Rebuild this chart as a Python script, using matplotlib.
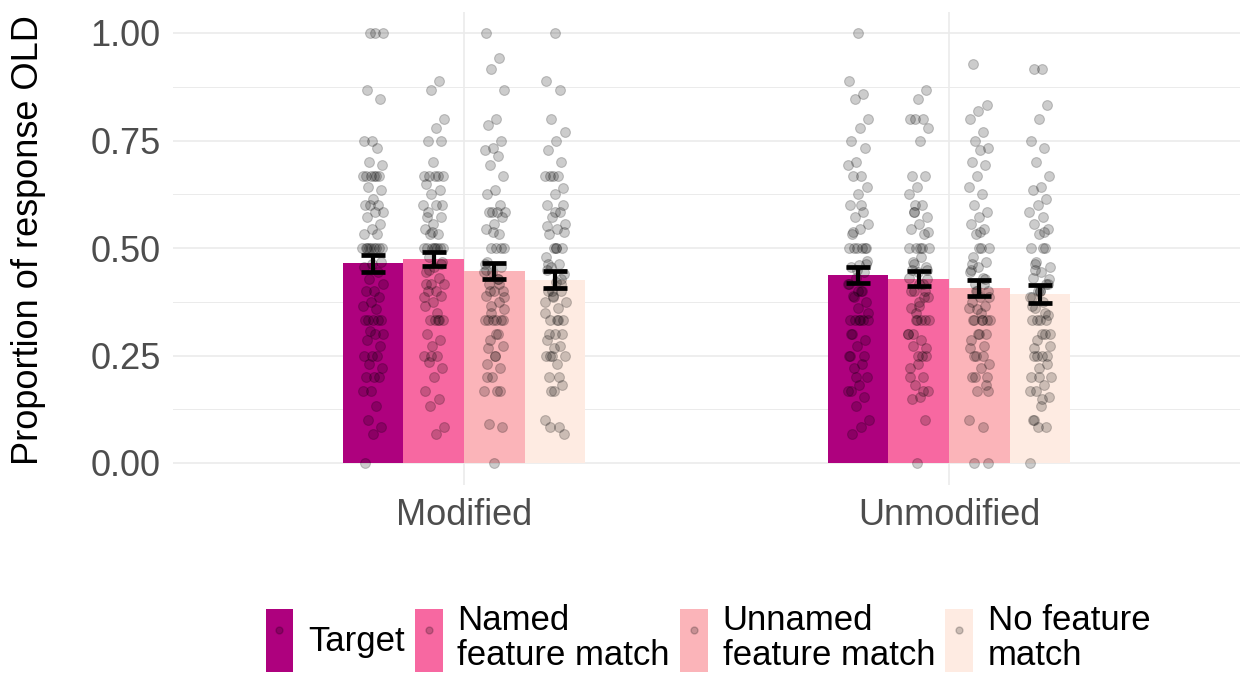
import numpy as np
import matplotlib
matplotlib.use("Agg")
import matplotlib.pyplot as plt
from matplotlib.patches import Patch
from matplotlib.lines import Line2D
from matplotlib.legend_handler import HandlerTuple

plt.rcParams['font.family'] = ['Liberation Sans', 'DejaVu Sans']

# ---- data -------------------------------------------------------------
conditions = ["Modified", "Unmodified"]
match_types = ["Target", "Named\nfeature match", "Unnamed\nfeature match", "No feature\nmatch"]
fill_colors = ["#AE017E", "#F768A1", "#FBB4B9", "#FEEBE2"]

# mean proportion of OLD responses, [condition][match type]
mean_old = [
    [0.464, 0.474, 0.447, 0.426],
    [0.437, 0.429, 0.407, 0.393],
]
# standard error of the mean
se_old = [
    [0.019, 0.017, 0.019, 0.020],
    [0.018, 0.017, 0.019, 0.020],
]

# per-participant proportions
mod_target = [1.0, 1.0, 1.0, 0.867, 0.846, 0.75, 0.75, 0.733, 0.70, 0.692, 0.667, 0.667, 0.667,
              0.667, 0.667, 0.667, 0.643, 0.636, 0.615, 0.60, 0.60, 0.60, 0.583, 0.583, 0.571,
              0.556, 0.545, 0.533, 0.533, 0.50, 0.50, 0.50, 0.50, 0.50, 0.50, 0.50, 0.50, 0.50,
              0.467, 0.462, 0.455, 0.444, 0.429, 0.417, 0.40, 0.40, 0.385, 0.375, 0.364, 0.357,
              0.333, 0.333, 0.333, 0.333, 0.333, 0.308, 0.30, 0.30, 0.286, 0.273, 0.25, 0.25,
              0.25, 0.231, 0.222, 0.20, 0.20, 0.20, 0.167, 0.167, 0.133, 0.10, 0.083, 0.067, 0.0]
mod_named = [0.889, 0.867, 0.80, 0.778, 0.75, 0.75, 0.70, 0.667, 0.667, 0.667, 0.667, 0.667,
             0.65, 0.636, 0.625, 0.60, 0.60, 0.583, 0.571, 0.556, 0.545, 0.533, 0.533, 0.50,
             0.50, 0.50, 0.50, 0.50, 0.50, 0.50, 0.48, 0.467, 0.455, 0.444, 0.43, 0.417, 0.417,
             0.40, 0.40, 0.389, 0.375, 0.364, 0.333, 0.333, 0.333, 0.333, 0.30, 0.286, 0.273,
             0.25, 0.25, 0.235, 0.222, 0.20, 0.167, 0.15, 0.133, 0.083, 0.067, 0.571, 0.462,
             0.538, 0.385, 0.35, 0.45, 0.6, 0.5, 0.417, 0.333, 0.25]
mod_unnamed = [1.0, 0.941, 0.917, 0.867, 0.80, 0.786, 0.75, 0.733, 0.727, 0.714, 0.692, 0.667,
               0.636, 0.625, 0.60, 0.583, 0.583, 0.583, 0.583, 0.571, 0.556, 0.545, 0.533,
               0.50, 0.50, 0.50, 0.467, 0.455, 0.444, 0.444, 0.429, 0.417, 0.40, 0.40, 0.389,
               0.375, 0.364, 0.357, 0.333, 0.333, 0.333, 0.333, 0.333, 0.30, 0.286, 0.273,
               0.25, 0.231, 0.222, 0.20, 0.167, 0.167, 0.091, 0.083, 0.0, 0.45, 0.417, 0.35,
               0.385, 0.3, 0.267, 0.5, 0.538, 0.462, 0.429, 0.4, 0.333, 0.25, 0.2, 0.167]
mod_nofeat = [1.0, 0.889, 0.867, 0.80, 0.769, 0.75, 0.727, 0.70, 0.667, 0.667, 0.667, 0.667,
              0.64, 0.625, 0.60, 0.583, 0.571, 0.556, 0.545, 0.533, 0.50, 0.50, 0.48, 0.462,
              0.455, 0.44, 0.42, 0.40, 0.40, 0.389, 0.375, 0.36, 0.333, 0.333, 0.30, 0.286,
              0.273, 0.25, 0.25, 0.231, 0.20, 0.182, 0.167, 0.10, 0.083, 0.083, 0.067, 0.5,
              0.45, 0.417, 0.4, 0.375, 0.333, 0.3, 0.3, 0.267, 0.25, 0.2, 0.167, 0.538, 0.5,
              0.462, 0.429, 0.385, 0.35, 0.333, 0.25, 0.6, 0.583, 0.55]
unmod_target = [1.0, 0.889, 0.857, 0.846, 0.80, 0.778, 0.75, 0.733, 0.70, 0.692, 0.667, 0.667,
                0.643, 0.625, 0.60, 0.583, 0.571, 0.556, 0.545, 0.533, 0.50, 0.50, 0.50, 0.50,
                0.50, 0.47, 0.46, 0.455, 0.444, 0.43, 0.417, 0.40, 0.389, 0.375, 0.36, 0.333,
                0.333, 0.333, 0.333, 0.333, 0.30, 0.286, 0.273, 0.25, 0.231, 0.222, 0.20,
                0.182, 0.167, 0.154, 0.133, 0.10, 0.083, 0.067, 0.5, 0.45, 0.417, 0.4, 0.385,
                0.35, 0.333, 0.3, 0.25, 0.2, 0.167, 0.6, 0.538, 0.462, 0.4, 0.25]
unmod_named = [0.867, 0.846, 0.80, 0.80, 0.80, 0.778, 0.75, 0.667, 0.667, 0.643, 0.625, 0.60,
               0.583, 0.571, 0.556, 0.545, 0.533, 0.50, 0.50, 0.48, 0.467, 0.455, 0.444, 0.43,
               0.417, 0.40, 0.385, 0.375, 0.36, 0.333, 0.333, 0.30, 0.286, 0.273, 0.25, 0.231,
               0.222, 0.20, 0.182, 0.167, 0.154, 0.15, 0.10, 0.0, 0.5, 0.5, 0.462, 0.45, 0.417,
               0.4, 0.385, 0.35, 0.333, 0.333, 0.3, 0.267, 0.25, 0.2, 0.167, 0.6, 0.538, 0.5,
               0.45, 0.4, 0.333, 0.3, 0.25, 0.583, 0.429, 0.364]
unmod_unnamed = [0.929, 0.833, 0.818, 0.80, 0.769, 0.75, 0.733, 0.727, 0.70, 0.692, 0.667,
                 0.643, 0.625, 0.60, 0.583, 0.571, 0.556, 0.545, 0.533, 0.50, 0.50, 0.48,
                 0.467, 0.455, 0.444, 0.43, 0.417, 0.40, 0.385, 0.375, 0.364, 0.357, 0.333,
                 0.333, 0.333, 0.333, 0.30, 0.286, 0.273, 0.25, 0.231, 0.222, 0.20, 0.182,
                 0.167, 0.10, 0.083, 0.0, 0.0, 0.5, 0.45, 0.417, 0.4, 0.385, 0.35, 0.333, 0.3,
                 0.3, 0.267, 0.25, 0.2, 0.167, 0.538, 0.462, 0.429, 0.4, 0.36, 0.333, 0.25, 0.2]
unmod_nofeat = [0.917, 0.917, 0.833, 0.80, 0.75, 0.733, 0.70, 0.667, 0.643, 0.636, 0.615,
                0.60, 0.583, 0.571, 0.556, 0.545, 0.533, 0.50, 0.50, 0.467, 0.455, 0.444,
                0.43, 0.417, 0.40, 0.385, 0.375, 0.36, 0.345, 0.333, 0.333, 0.30, 0.286,
                0.273, 0.25, 0.25, 0.231, 0.222, 0.20, 0.182, 0.167, 0.154, 0.133, 0.10,
                0.083, 0.083, 0.0, 0.5, 0.45, 0.417, 0.4, 0.385, 0.35, 0.333, 0.3, 0.3, 0.267,
                0.25, 0.2, 0.167, 0.538, 0.462, 0.429, 0.4, 0.364, 0.333, 0.25, 0.2, 0.15, 0.1]

participants = [
    [mod_target, mod_named, mod_unnamed, mod_nofeat],
    [unmod_target, unmod_named, unmod_unnamed, unmod_nofeat],
]

# ---- layout -----------------------------------------------------------
bar_w = 0.125
dodge = [-1.5 * bar_w, -0.5 * bar_w, 0.5 * bar_w, 1.5 * bar_w]
jitter_w = 0.022
grid_col = "#EBEBEB"
text_col = "#4D4D4D"
fs = 26

fig = plt.figure(figsize=(12.41, 6.77), dpi=100)
ax = fig.add_axes([173 / 1241, 1 - 484.5 / 677, 1067 / 1241, 473 / 677])

for ci, cond in enumerate(conditions):
    xc = ci + 1
    for mi in range(len(match_types)):
        xb = xc + dodge[mi]
        ax.bar(xb, mean_old[ci][mi], width=bar_w, color=fill_colors[mi],
               linewidth=0, zorder=2)
        vals = np.asarray(participants[ci][mi])
        k = np.arange(len(vals))
        offs = ((k * 0.6180339887 + 0.37 * (mi + 1) + 0.11 * ci) % 1.0 - 0.5) * 2 * jitter_w
        ax.scatter(xb + offs, vals, s=50, color="black", alpha=0.2,
                   linewidths=0.8, edgecolors="black", zorder=3)
        ax.errorbar(xb, mean_old[ci][mi], yerr=se_old[ci][mi], fmt="none",
                    ecolor="black", elinewidth=3.0, capsize=8.8, capthick=3.4, zorder=4)

ax.set_xlim(0.4, 2.6)
ax.set_ylim(-0.05, 1.05)
ax.set_xticks([1, 2])
ax.set_xticklabels(conditions)
ax.set_yticks([0, 0.25, 0.5, 0.75, 1.0])
ax.set_yticklabels(["0.00", "0.25", "0.50", "0.75", "1.00"])
ax.set_yticks([0.125, 0.375, 0.625, 0.875], minor=True)
ax.tick_params(axis="both", which="both", length=0, labelsize=fs, labelcolor=text_col)
ax.tick_params(axis="y", pad=9)
ax.tick_params(axis="x", pad=10)
ax.grid(True, axis="y", which="major", color=grid_col, linewidth=1.2, zorder=0)
ax.grid(True, axis="y", which="minor", color=grid_col, linewidth=0.7, zorder=0)
ax.grid(True, axis="x", which="major", color=grid_col, linewidth=1.2, zorder=0)
ax.set_axisbelow(True)
for sp in ax.spines.values():
    sp.set_visible(False)

fig.text(29 / 1241, 1 - 240 / 677, "Proportion of response OLD", fontsize=fs,
         color="black", rotation=90, ha="center", va="center")

# legend: filled key with a faint point in the middle
handles = []
for col in fill_colors:
    patch = Patch(facecolor=col, edgecolor="none")
    dot = Line2D([], [], marker="o", linestyle="none", markersize=5,
                 markerfacecolor="black", markeredgecolor="black", alpha=0.2)
    handles.append((patch, dot))

leg = fig.legend(handles, match_types, handler_map={tuple: HandlerTuple(ndivide=1, pad=0)},
                 loc="center", bbox_to_anchor=(708 / 1241, 1 - 638 / 677), ncol=4,
                 frameon=False, fontsize=25, handlelength=0.8, handleheight=2.4,
                 handletextpad=0.42, columnspacing=0.3, borderpad=0, borderaxespad=0)
for t in leg.get_texts():
    t.set_linespacing(1.05)

fig.savefig("out.png", dpi=100, facecolor="white")
